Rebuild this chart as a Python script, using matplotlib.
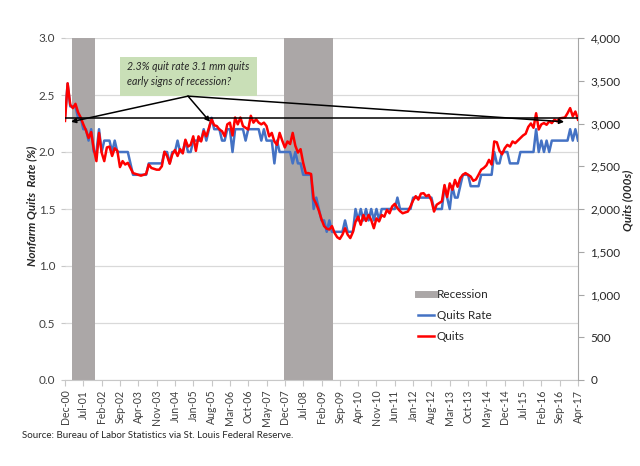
import matplotlib
matplotlib.use('Agg')
import matplotlib.pyplot as plt
from matplotlib.lines import Line2D
from matplotlib.patches import Rectangle
import numpy as np

# ---------------- data (monthly, Dec-00 .. Apr-17) ----------------
quits_rate = [
    2.3, 2.6, 2.4, 2.4, 2.4, 2.3, 2.3, 2.2, 2.2, 2.1, 2.2, 2.0, 2.0,
    2.2, 2.0, 2.1, 2.1, 2.1, 2.0, 2.1, 2.0, 2.0, 2.0, 2.0, 2.0,
    1.9, 1.8, 1.8, 1.8, 1.8, 1.8, 1.8, 1.9, 1.9, 1.9, 1.9, 1.9,
    1.9, 2.0, 2.0, 1.9, 2.0, 2.0, 2.1, 2.0, 2.0, 2.1, 2.0, 2.0,
    2.1, 2.1, 2.1, 2.1, 2.2, 2.1, 2.2, 2.3, 2.2, 2.2, 2.2, 2.1,
    2.1, 2.2, 2.2, 2.0, 2.2, 2.2, 2.2, 2.2, 2.1, 2.2, 2.2, 2.2,
    2.2, 2.2, 2.1, 2.2, 2.1, 2.1, 2.1, 1.9, 2.1, 2.0, 2.0, 2.0,
    2.0, 2.0, 1.9, 2.0, 1.9, 1.9, 1.8, 1.8, 1.8, 1.8, 1.5, 1.6,
    1.5, 1.4, 1.4, 1.3, 1.4, 1.3, 1.3, 1.3, 1.3, 1.3, 1.4, 1.3,
    1.3, 1.3, 1.5, 1.4, 1.5, 1.4, 1.5, 1.4, 1.5, 1.4, 1.5, 1.4,
    1.5, 1.5, 1.5, 1.5, 1.5, 1.5, 1.6, 1.5, 1.5, 1.5, 1.5, 1.5,
    1.6, 1.6, 1.6, 1.6, 1.6, 1.6, 1.6, 1.6, 1.5, 1.5, 1.5, 1.5,
    1.7, 1.6, 1.5, 1.7, 1.6, 1.6, 1.7, 1.8, 1.8, 1.8, 1.7, 1.7,
    1.7, 1.7, 1.8, 1.8, 1.8, 1.8, 1.8, 2.0, 1.9, 1.9, 2.0, 2.0,
    2.0, 1.9, 1.9, 1.9, 1.9, 2.0, 2.0, 2.0, 2.0, 2.0, 2.0, 2.2,
    2.0, 2.1, 2.0, 2.1, 2.0, 2.1, 2.1, 2.1, 2.1, 2.1, 2.1, 2.1,
    2.2, 2.1, 2.2, 2.1,
]

quits = [
    3030, 3470, 3220, 3180, 3230, 3130, 3070, 2990, 2920, 2830, 2900, 2700, 2560,
    2890, 2660, 2560, 2720, 2730, 2620, 2710, 2680, 2490, 2560, 2520, 2540,
    2480, 2420, 2410, 2400, 2390, 2400, 2410, 2520, 2480, 2470, 2460, 2460,
    2500, 2670, 2620, 2530, 2640, 2690, 2620, 2700, 2650, 2810, 2730, 2750,
    2850, 2680, 2850, 2790, 2910, 2850, 2950, 3050, 2980, 2970, 2930, 2910,
    2850, 2990, 3010, 2860, 3070, 2990, 3070, 2970, 2950, 2930, 3090, 3010,
    3050, 3010, 2990, 3010, 2970, 2850, 2890, 2790, 2750, 2890, 2800, 2720,
    2790, 2760, 2890, 2740, 2660, 2700, 2540, 2420, 2420, 2410, 2120, 2060,
    1980, 1880, 1800, 1770, 1760, 1800, 1720, 1670, 1650, 1700, 1775, 1700,
    1660, 1730, 1850, 1910, 1815, 1930, 1860, 1930, 1870, 1775, 1890, 1855,
    1930, 1910, 1990, 1950, 2030, 2060, 2010, 1975, 1950, 1960, 1970, 2030,
    2100, 2150, 2110, 2180, 2185, 2150, 2165, 2100, 1970, 2050, 2070, 2090,
    2280, 2140, 2300, 2225, 2340, 2260, 2360, 2400, 2420, 2400, 2380, 2330,
    2345, 2400, 2460, 2480, 2510, 2575, 2520, 2790, 2780, 2680, 2640, 2710,
    2750, 2730, 2790, 2770, 2800, 2830, 2860, 2880, 2960, 3000, 2950, 3120,
    2930, 2990, 3005, 2985, 3025, 3005, 3045, 3025, 3060, 3065, 3070, 3120,
    3180, 3085, 3140, 3045,
]

tick_labels = ['Dec-00', 'Jul-01', 'Feb-02', 'Sep-02', 'Apr-03', 'Nov-03', 'Jun-04',
               'Jan-05', 'Aug-05', 'Mar-06', 'Oct-06', 'May-07', 'Dec-07', 'Jul-08',
               'Feb-09', 'Sep-09', 'Apr-10', 'Nov-10', 'Jun-11', 'Jan-12', 'Aug-12',
               'Mar-13', 'Oct-13', 'May-14', 'Dec-14', 'Jul-15', 'Feb-16', 'Sep-16',
               'Apr-17']
tick_step = 7

# recession months, as month index since Dec-00 (Mar-01..Nov-01, Dec-07..Jun-09)
recession_start = [3, 84]
recession_end = [11, 102]

ref_rate = 2.3
annotation_text = "2.3% quit rate 3.1 mm quits\nearly signs of recession?"
source_text = "Source: Bureau of Labor Statistics via St. Louis Federal Reserve."

# ---------------- style ----------------
plt.rcParams['font.family'] = ['Lato', 'DejaVu Sans']
BLUE = '#4472c4'
RED = '#ff0000'
GRAY = '#aba7a7'
TXT = '#262626'

fig = plt.figure(figsize=(6.4, 4.66), dpi=100)
ax = fig.add_axes([65 / 640, 1 - 380 / 466, 513 / 640, 342 / 466])
ax2 = ax.twinx()

x = np.arange(len(quits_rate))

for s, e in zip(recession_start, recession_end):
    ax.axvspan(s - 0.5, e + 0.5, color=GRAY, lw=0, zorder=1)

ax.set_xlim(0, len(quits_rate) - 1)
ax.set_ylim(0, 3)
ax2.set_ylim(0, 4000)

ax.yaxis.grid(True, color='#d9d9d9', lw=0.9, zorder=0)
ax.set_axisbelow(True)

ax.plot(x, quits_rate, color=BLUE, lw=1.8, zorder=3)
ax2.plot(x, quits, color=RED, lw=1.8, zorder=3)

# ticks
ax.set_yticks(np.arange(0, 3.01, 0.5))
ax.set_yticklabels([f'{v:.1f}' for v in np.arange(0, 3.01, 0.5)])
ax2.set_yticks(np.arange(0, 4001, 500))
ax2.set_yticklabels([f'{int(v):,}' for v in np.arange(0, 4001, 500)])
ax.set_xticks(x[::tick_step])
ax.set_xticklabels(tick_labels, rotation=90)

for a in (ax, ax2):
    for sp in ('top', 'left'):
        a.spines[sp].set_visible(False)
ax.spines['right'].set_visible(False)
ax2.spines['bottom'].set_visible(False)
ax.spines['bottom'].set_color('#c8c8c8')
ax2.spines['right'].set_color('#a6a6a6')

ax.tick_params(axis='y', length=3, color='#c8c8c8', pad=4, labelsize=8.5, labelcolor='#404040')
ax.tick_params(axis='x', length=4, color='#c8c8c8', pad=3, labelsize=7.6, labelcolor='#404040')
ax2.tick_params(axis='y', length=4, color='#a6a6a6', pad=5, labelsize=8.5, labelcolor=TXT)

# annotation
T = ax.transData
box = Rectangle((21, 2.49), 52.4, 0.345, transform=T, facecolor='#c9dfb7',
                edgecolor='none', zorder=5)
ax2.add_patch(box)
ax2.text(23.7, 2.686, annotation_text, transform=T, style='italic', fontsize=7.6,
         ha='left', va='center', linespacing=1.45, color=TXT, zorder=6)
ax2.plot([x[0], x[-1]], [ref_rate, ref_rate], transform=T, color='black', lw=1.1, zorder=6)
origin = (47, 2.49)
for tx in (2.3, 55.4, 190.7):
    ax2.annotate('', xy=(tx, 2.265), xycoords=T, xytext=origin, textcoords=T,
                 arrowprops=dict(arrowstyle='-|>', color='black', lw=1.1,
                                 mutation_scale=7, shrinkA=0, shrinkB=0), zorder=6)

# legend
handles = [Line2D([0], [0], color=GRAY, lw=5),
           Line2D([0], [0], color=BLUE, lw=1.8),
           Line2D([0], [0], color=RED, lw=1.8)]
ax2.legend(handles, ['Recession', 'Quits Rate', 'Quits'], loc='upper left',
           bbox_to_anchor=(0.668, 0.296), frameon=False, fontsize=8.5,
           handlelength=1.35, handletextpad=0.2, labelspacing=0.85,
           labelcolor=TXT)

fig.text(32 / 640, 1 - 206 / 466, 'Nonfarm Quits  Rate (%)', rotation=90,
         ha='center', va='center', fontsize=8.5, fontweight='bold', style='italic', color=TXT)
fig.text(628 / 640, 1 - 200 / 466, 'Quits (000s)', rotation=90,
         ha='center', va='center', fontsize=8.5, fontweight='bold', style='italic', color=TXT)
fig.text(22 / 640, 1 - 436 / 466, source_text, ha='left', va='center', fontsize=7, color=TXT)

fig.savefig('out.png', dpi=100)
